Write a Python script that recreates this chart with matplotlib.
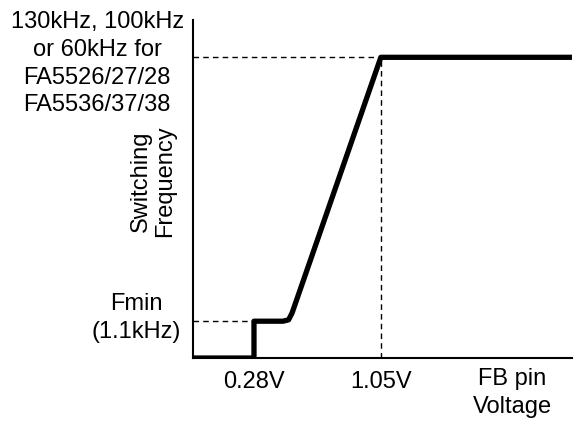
import matplotlib.pyplot as plt

plt.rcParams['font.family'] = ['Liberation Sans', 'DejaVu Sans']

# schematic curve: FB pin voltage (V) vs switching frequency (relative units)
fb_voltage = [-0.09, 0.28, 0.28, 0.456, 0.49, 0.511, 1.05, 2.21]
frequency = [0.0, 0.0, 0.109, 0.109, 0.113, 0.133, 0.89, 0.89]

v_low, v_high = 0.28, 1.05
f_min, f_max = 0.109, 0.89
tick_labels = ['0.28V', '1.05V']

fig = plt.figure(figsize=(5.75, 4.25), dpi=100)
ax = fig.add_axes([0.3357, 0.1576, 0.659, 0.795])

ax.plot(fb_voltage, frequency, color='black', lw=3.8, solid_joinstyle='round',
        solid_capstyle='butt', zorder=3)

# dashed guide lines
ax.plot([-0.09, v_low], [f_min, f_min], color='black', lw=1, ls=(0, (4, 3)))
ax.plot([-0.09, v_high], [f_max, f_max], color='black', lw=1, ls=(0, (4, 3)))
ax.plot([v_high, v_high], [0, f_max], color='black', lw=1, ls=(0, (4, 3)))

ax.set_xlim(-0.09, 2.21)
ax.set_ylim(0, 1)
for side in ['top', 'right']:
    ax.spines[side].set_visible(False)
for side in ['left', 'bottom']:
    ax.spines[side].set_linewidth(1.5)

ax.set_xticks([v_low, v_high])
ax.set_xticklabels(tick_labels, fontsize=17)
ax.tick_params(axis='x', length=0, pad=9)
ax.set_yticks([])

ax.text(0.842, -0.03, 'FB pin\nVoltage', transform=ax.transAxes, ha='center',
        va='top', fontsize=17, linespacing=1.35)
ax.text(-0.106, 0.524, 'Switching\nFrequency', transform=ax.transAxes, ha='center',
        va='center', rotation=90, fontsize=17, linespacing=1.1)
fig.text(0.169, 0.975, '130kHz, 100kHz\nor 60kHz for\nFA5526/27/28\nFA5536/37/38',
         ha='center', va='top', fontsize=17, linespacing=1.35)
fig.text(0.237, 0.252, 'Fmin\n(1.1kHz)', ha='center', va='center', fontsize=17,
         linespacing=1.35)

fig.savefig('out.png', dpi=100)
